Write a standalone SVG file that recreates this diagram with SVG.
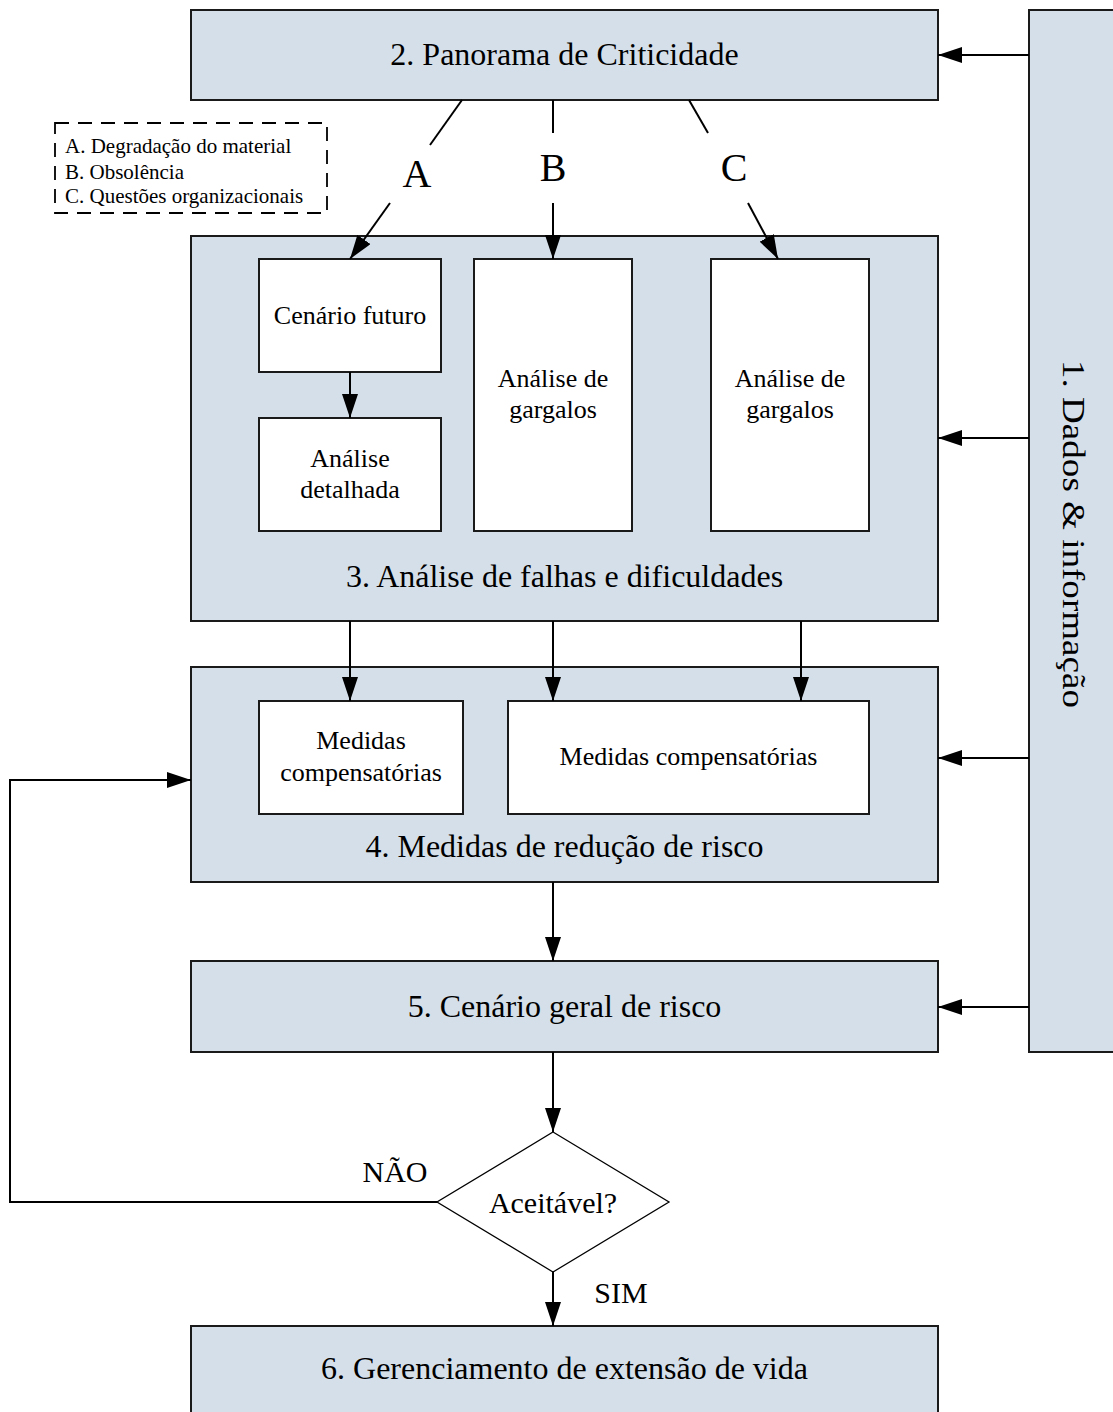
<svg xmlns="http://www.w3.org/2000/svg" width="1113" height="1412" viewBox="0 0 1113 1412">
<style>
.box{fill:#d5dfea;stroke:#1a1a1a;stroke-width:2}
.inner{fill:#ffffff;stroke:#1a1a1a;stroke-width:2}
.t{font-family:"Liberation Serif","Times New Roman",serif;fill:#000;text-anchor:middle}
.main{font-size:32px}
.sub{font-size:26px}
.leg{font-size:21px;text-anchor:start}
.big{font-size:40px}
.lbl{font-size:30px}
.c{fill:none;stroke:#000;stroke-width:2}
.ca{fill:none;stroke:#000;stroke-width:2;marker-end:url(#ah)}
</style>
<defs>
<marker id="ah" markerWidth="24" markerHeight="16" refX="24" refY="8" orient="auto" markerUnits="userSpaceOnUse">
<path d="M0,0 L24,8 L0,16 Z" fill="#000"/>
</marker>
</defs>
<rect width="1113" height="1412" fill="#ffffff"/>

<g id="node-dados">
<rect class="box" x="1029" y="10" width="100" height="1042"/>
<text class="t" transform="translate(1063,534) rotate(90)" font-size="32" textLength="348" lengthAdjust="spacingAndGlyphs">1. Dados &amp; informação</text>
</g>

<g id="node-panorama">
<rect class="box" x="191" y="10" width="747" height="90"/>
<text class="t main" x="564.5" y="65">2. Panorama de Criticidade</text>
</g>

<g id="legend">
<rect x="55" y="123" width="272" height="90" fill="none" stroke="#000" stroke-width="1.8" stroke-dasharray="14 9"/>
<text class="t leg" x="65" y="153">A. Degradação do material</text>
<text class="t leg" x="65" y="179">B. Obsolência</text>
<text class="t leg" x="65" y="203">C. Questões organizacionais</text>
</g>

<g id="node-analise">
<rect class="box" x="191" y="236" width="747" height="385"/>
<text class="t main" x="564.5" y="587">3. Análise de falhas e dificuldades</text>
</g>
<g id="node-cenario-futuro">
<rect class="inner" x="259" y="259" width="182" height="113"/>
<text class="t sub" x="350" y="324">Cenário futuro</text>
</g>
<g id="node-analise-detalhada">
<rect class="inner" x="259" y="418" width="182" height="113"/>
<text class="t sub" x="350" y="467">Análise</text>
<text class="t sub" x="350" y="498">detalhada</text>
</g>
<g id="node-gargalos-b">
<rect class="inner" x="474" y="259" width="158" height="272"/>
<text class="t sub" x="553" y="387">Análise de</text>
<text class="t sub" x="553" y="418">gargalos</text>
</g>
<g id="node-gargalos-c">
<rect class="inner" x="711" y="259" width="158" height="272"/>
<text class="t sub" x="790" y="387">Análise de</text>
<text class="t sub" x="790" y="418">gargalos</text>
</g>

<g id="node-medidas">
<rect class="box" x="191" y="667" width="747" height="215"/>
<text class="t main" x="564.5" y="857">4. Medidas de redução de risco</text>
</g>
<g id="node-medidas-1">
<rect class="inner" x="259" y="701" width="204" height="113"/>
<text class="t sub" x="361" y="749">Medidas</text>
<text class="t sub" x="361" y="781">compensatórias</text>
</g>
<g id="node-medidas-2">
<rect class="inner" x="508" y="701" width="361" height="113"/>
<text class="t sub" x="688.5" y="765">Medidas compensatórias</text>
</g>

<g id="node-cenario-geral">
<rect class="box" x="191" y="961" width="747" height="91"/>
<text class="t main" x="564.5" y="1017">5. Cenário geral de risco</text>
</g>

<g id="node-aceitavel">
<polygon points="553,1132 669,1202 553,1272 437,1202" fill="#ffffff" stroke="#000" stroke-width="1.3"/>
<text class="t lbl" x="553" y="1213">Aceitável?</text>
</g>

<g id="node-gerenciamento">
<rect class="box" x="191" y="1326" width="747" height="100"/>
<text class="t main" x="564.5" y="1379">6. Gerenciamento de extensão de vida</text>
</g>

<g id="connectors">
<line class="c" x1="462" y1="100" x2="430" y2="145" stroke-width="1.6"/>
<line class="ca" x1="390" y1="203" x2="350" y2="259" stroke-width="1.6"/>
<line class="c" x1="553" y1="100" x2="553" y2="133" stroke-width="1.6"/>
<line class="ca" x1="553" y1="203" x2="553" y2="259" stroke-width="1.6"/>
<line class="c" x1="689" y1="100" x2="708" y2="133" stroke-width="1.6"/>
<line class="ca" x1="748" y1="203" x2="778" y2="259" stroke-width="1.6"/>
<text class="t big" x="417" y="187">A</text>
<text class="t big" x="553" y="181">B</text>
<text class="t big" x="734" y="181">C</text>

<line class="ca" x1="350" y1="372" x2="350" y2="418"/>

<line class="ca" x1="350" y1="621" x2="350" y2="701"/>
<line class="ca" x1="553" y1="621" x2="553" y2="701"/>
<line class="ca" x1="801" y1="621" x2="801" y2="701"/>

<line class="ca" x1="553" y1="882" x2="553" y2="961"/>
<line class="ca" x1="553" y1="1052" x2="553" y2="1132"/>
<line class="ca" x1="553" y1="1272" x2="553" y2="1326"/>

<polyline class="ca" points="437,1202 10,1202 10,780 191,780"/>

<line class="ca" x1="1029" y1="55" x2="938" y2="55"/>
<line class="ca" x1="1029" y1="438" x2="938" y2="438"/>
<line class="ca" x1="1029" y1="758" x2="938" y2="758"/>
<line class="ca" x1="1029" y1="1007" x2="938" y2="1007"/>

<text class="t lbl" x="395" y="1182">NÃO</text>
<text class="t lbl" x="621" y="1303">SIM</text>
</g>
</svg>
